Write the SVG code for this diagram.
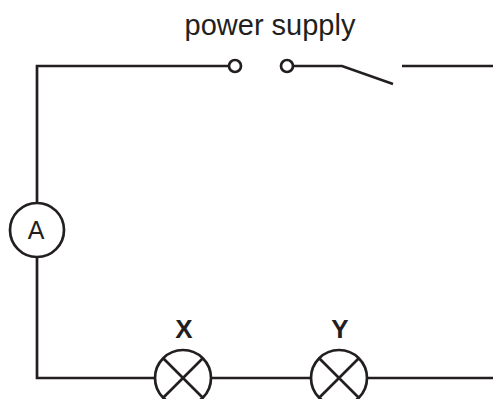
<svg xmlns="http://www.w3.org/2000/svg" width="493" height="399" viewBox="0 0 493 399">
<style>
.w{fill:none;stroke:#231f20;stroke-width:2.7}
.t{fill:#231f20;font-family:"Liberation Sans",Arial,sans-serif}
</style>
<rect width="493" height="399" fill="#fff"/>
<g id="connectors">
<path class="w" d="M229,66 H37 V203 M37,257 V378 H155 M211,378 H311 M367,378 H493 M293,66 H342 L393,84 M402,66 H493"/>
</g>
<g id="power-supply">
<circle class="w" cx="235" cy="66" r="6"/>
<circle class="w" cx="287" cy="66" r="6"/>
<text class="t" x="270" y="35" font-size="29" text-anchor="middle">power supply</text>
</g>
<g id="ammeter">
<circle class="w" cx="37" cy="230" r="27"/>
<text class="t" x="36" y="239" font-size="25" text-anchor="middle">A</text>
</g>
<g id="lamp-x">
<circle class="w" cx="183" cy="378" r="28"/>
<path class="w" d="M163.2,358.2 L202.8,397.8 M202.8,358.2 L163.2,397.8"/>
<text class="t" x="184" y="338" font-size="26" font-weight="bold" text-anchor="middle">X</text>
</g>
<g id="lamp-y">
<circle class="w" cx="339" cy="378" r="28"/>
<path class="w" d="M319.2,358.2 L358.8,397.8 M358.8,358.2 L319.2,397.8"/>
<text class="t" x="340" y="338" font-size="26" font-weight="bold" text-anchor="middle">Y</text>
</g>
</svg>
